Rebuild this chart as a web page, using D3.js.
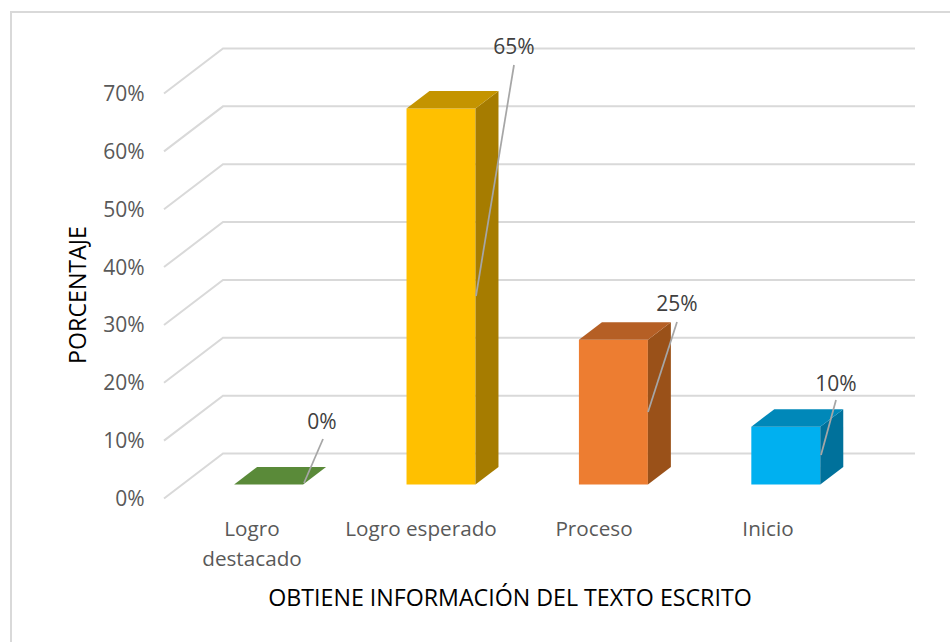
<!DOCTYPE html>
<html><head><meta charset="utf-8">
<script src="https://cdn.jsdelivr.net/npm/d3@7"></script>
<style>html,body{margin:0;padding:0;background:#fff}svg{display:block}text{font-family:"Open Sans",sans-serif}</style>
</head><body><svg id="c" width="950" height="642"></svg>
<script>
const categories = ["Logro destacado","Logro esperado","Proceso","Inicio"];
const values = [0,65,25,10];
const ticks = [0,10,20,30,40,50,60,70];
const front = ["#70ad47","#ffc000","#ed7d31","#00b0f0"];
const topC = ["#5a8a39","#c49400","#b55f25","#0088b9"];
const side = ["#5a8a39","#a67c00","#9a5119","#00719b"];
const svg = d3.select("#c");
svg.append("rect").attr("x",11).attr("y",12).attr("width",950).attr("height",700).attr("fill","#fff").attr("stroke","#d9d9d9").attr("stroke-width",2);
const yBack = d3.scaleLinear().domain([0,70]).range([453.5,48.5]);
const unit = 5.786;
const yFront = d3.scaleLinear().domain([0,65]).range([484.5,484.5-65*unit]);
const x = d3.scaleBand().domain(categories).range([182.4,872]).paddingInner(0.6).paddingOuter(0.3);
const dx=23, dy=17.5;
const g = svg.append("g");
const line = d3.line();
ticks.forEach(t=>{
  g.append("path").attr("fill","none").attr("stroke","#d9d9d9").attr("stroke-width",2)
   .attr("d",line([[164,yBack(t)+45],[223,yBack(t)],[915,yBack(t)]]));
  g.append("text").attr("x",144.5).attr("y",yBack(t)+45+7.5).attr("text-anchor","end")
   .attr("font-size",21).attr("fill","#595959").text(t+"%");
});
categories.forEach((c,i)=>{
  const l=x(c), r=l+x.bandwidth(), y0=yFront(0), y1=yFront(values[i]);
  if(values[i]>0){
    g.append("path").attr("fill",front[i]).attr("d",line([[l,y0],[r,y0],[r,y1],[l,y1]])+"Z");
    g.append("path").attr("fill",side[i]).attr("d",line([[r,y0],[r+dx,y0-dy],[r+dx,y1-dy],[r,y1]])+"Z");
  }
  g.append("path").attr("fill",topC[i]).attr("d",line([[l,y1],[r,y1],[r+dx,y1-dy],[l+dx,y1-dy]])+"Z");
});
const labels=[[322,421,304,483,323,439],[514,46,476,296,514,65],[677,303.5,648,412,677,322],[836,383,821,455,836,400]];
values.forEach((v,i)=>{
  const a=labels[i];
  g.append("path").attr("fill","none").attr("stroke","#a6a6a6").attr("stroke-width",1.75).attr("d",line([[a[4],a[5]],[a[2],a[3]]]));
  g.append("text").attr("x",a[0]).attr("y",a[1]+7.5).attr("text-anchor","middle").attr("font-size",21).attr("fill","#404040").text(v+"%");
});
const catLines=[["Logro","destacado"],["Logro esperado"],["Proceso"],["Inicio"]];
const catX=[252,421,594,768];
catLines.forEach((ls,i)=>ls.forEach((s,j)=>{
  g.append("text").attr("x",catX[i]).attr("y",536+j*30).attr("text-anchor","middle").attr("font-size",20.7).attr("fill","#595959").text(s);
}));
svg.append("text").attr("x",510).attr("y",605.5).attr("text-anchor","middle").attr("font-size",23.2).attr("fill","#000").text("OBTIENE INFORMACIÓN DEL TEXTO ESCRITO");
svg.append("text").attr("transform","translate(86,295) rotate(-90)").attr("text-anchor","middle").attr("font-size",23.2).attr("fill","#000").text("PORCENTAJE");
</script></body></html>
